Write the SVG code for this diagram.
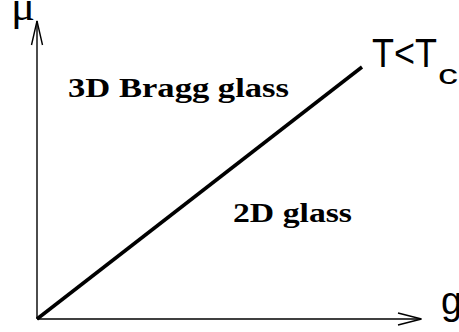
<svg xmlns="http://www.w3.org/2000/svg" width="459" height="332" viewBox="0 0 459 332">
<style>
.axis{fill:none;stroke:#000;stroke-width:1.4}
.line{fill:none;stroke:#000;stroke-width:3.5}
.lbl{font-family:'Liberation Serif','Times New Roman',Times,serif;font-weight:700;fill:#000}
.sans{font-family:'Liberation Sans',Arial,sans-serif;fill:#000}
.ser{font-family:'Liberation Serif','Times New Roman',serif;fill:#000}
</style>
<rect width="459" height="332" fill="#fff"/>
<g id="connectors">
<path class="axis" d="M37,319 V21"/>
<path class="axis" d="M31.5,45 L37,21 L42.5,45"/>
<path class="axis" d="M37,319 H421"/>
<path class="axis" d="M398,313 L421.5,319 L398,325"/>
<path class="line" d="M37,319 L362,67"/>
</g>
<g id="mu"><text class="ser" x="11" y="20" font-size="40" textLength="24" lengthAdjust="spacingAndGlyphs">μ</text></g>
<g id="g"><text class="sans" x="441" y="314" font-size="38">g</text></g>
<g id="tc"><text class="sans" x="372" y="67" font-size="40" textLength="65" lengthAdjust="spacingAndGlyphs">T&lt;T</text><text class="sans" x="438" y="84" font-size="28" textLength="20" lengthAdjust="spacingAndGlyphs">c</text></g>
<g id="bragg"><text class="lbl" x="68" y="97" font-size="28" textLength="221" lengthAdjust="spacingAndGlyphs">3D Bragg glass</text></g>
<g id="glass2d"><text class="lbl" x="233" y="222" font-size="28" textLength="119" lengthAdjust="spacingAndGlyphs">2D glass</text></g>
</svg>
